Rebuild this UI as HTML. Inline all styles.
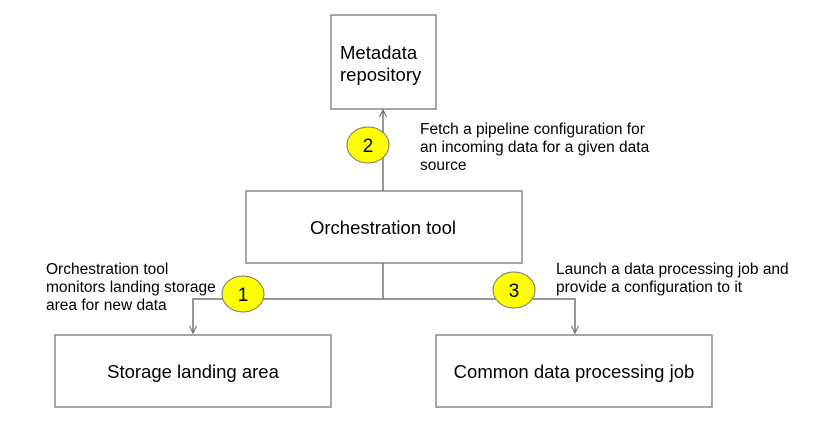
<!DOCTYPE html>
<html><head><meta charset="utf-8"><style>
body{margin:0;background:#fff;}
svg{display:block;font-family:"Liberation Sans",Arial,sans-serif;}
</style></head><body>
<svg width="828" height="431" viewBox="0 0 828 431" xmlns="http://www.w3.org/2000/svg">
<g fill="#fff" stroke="#888" stroke-width="1.5">
<rect x="331" y="15" width="105" height="94"/>
<rect x="246" y="191" width="276" height="72"/>
<rect x="55" y="335" width="276" height="72"/>
<rect x="436" y="335" width="276" height="72"/>
</g>
<g stroke="#777" stroke-width="1.5" fill="none">
<line x1="383" y1="191" x2="383" y2="110"/>
<line x1="383" y1="263" x2="383" y2="299"/>
<polyline points="193,333 193,299 575,299 575,333"/>
<path d="M379.5,117 L383,110 L386.5,117" stroke-width="1.2"/>
<path d="M189.5,326 L193,333 L196.5,326" stroke-width="1.2"/>
<path d="M571.5,326 L575,333 L578.5,326" stroke-width="1.2"/>
</g>
<g fill="#ffff00" stroke="#777" stroke-width="1">
<ellipse cx="368" cy="145" rx="21" ry="18"/>
<ellipse cx="243" cy="294" rx="21" ry="18"/>
<ellipse cx="514" cy="290" rx="21" ry="18"/>
</g>
<g font-size="19" text-anchor="middle" fill="#000">
<text x="368" y="152">2</text>
<text x="243" y="301">1</text>
<text x="514" y="297">3</text>
</g>
<g font-size="18.5" fill="#000">
<text x="340" y="59">Metadata</text>
<text x="340" y="81">repository</text>
<text x="383" y="234" text-anchor="middle">Orchestration tool</text>
<text x="193" y="378" text-anchor="middle">Storage landing area</text>
<text x="574" y="378" text-anchor="middle">Common data processing job</text>
</g>
<g font-size="15.5" fill="#000">
<text x="420" y="134">Fetch a pipeline configuration for</text>
<text x="420" y="152">an incoming data for a given data</text>
<text x="420" y="170">source</text>
<text x="46" y="274">Orchestration tool</text>
<text x="46" y="292">monitors landing storage</text>
<text x="46" y="310">area for new data</text>
<text x="556" y="274">Launch a data processing job and</text>
<text x="556" y="292">provide a configuration to it</text>
</g>
</svg>
</body></html>
